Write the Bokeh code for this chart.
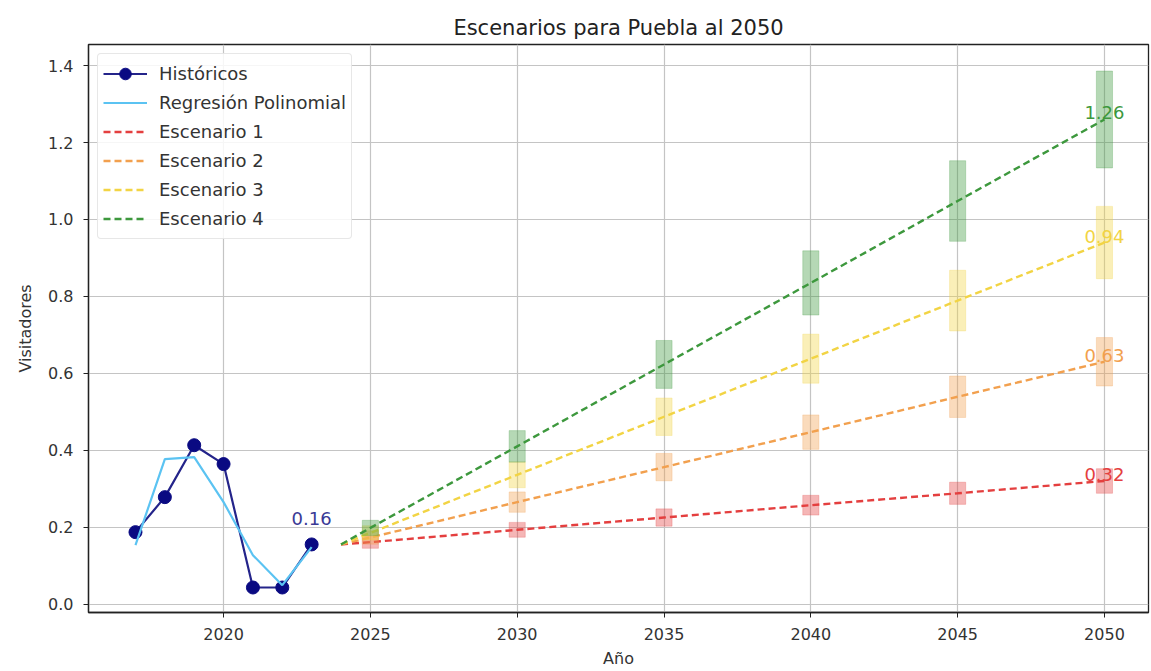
from bokeh.plotting import figure
from bokeh.models import Range1d, FixedTicker, NumeralTickFormatter, ColumnDataSource, Label
from bokeh.embed import file_html
from bokeh.resources import INLINE

# ---- data ----
hist_years = [2017, 2018, 2019, 2020, 2021, 2022, 2023]
hist_values = [0.187, 0.278, 0.413, 0.364, 0.043, 0.043, 0.155]
reg_values = [0.153, 0.377, 0.382, 0.265, 0.127, 0.049, 0.148]

line_years = [2024, 2025, 2030, 2035, 2040, 2045, 2050]
bar_years = [2025, 2030, 2035, 2040, 2045, 2050]
esc1 = [0.155, 0.161, 0.193, 0.225, 0.257, 0.288, 0.32]
esc2 = [0.155, 0.173, 0.265, 0.356, 0.447, 0.539, 0.63]
esc3 = [0.155, 0.185, 0.336, 0.487, 0.638, 0.789, 0.94]
esc4 = [0.155, 0.198, 0.41, 0.623, 0.835, 1.048, 1.26]
err_frac = 0.10

scen_names = ["Escenario 1", "Escenario 2", "Escenario 3", "Escenario 4"]
scen_colors = ["#e43f3f", "#f2a04e", "#f2d444", "#3d983d"]
scen_labels = ["0.32", "0.63", "0.94", "1.26"]
y_ticks = [0.0, 0.2, 0.4, 0.6, 0.8, 1.0, 1.2, 1.4]
x_ticks = [2020, 2025, 2030, 2035, 2040, 2045, 2050]

FONT = "DejaVu Sans"

p = figure(width=1150, height=670, output_backend="svg", toolbar_location=None,
           x_range=Range1d(2015.4, 2051.5), y_range=Range1d(-0.022, 1.455),
           min_border_left=88, min_border_right=2, min_border_top=44, min_border_bottom=58,
           title="Escenarios para Puebla al 2050")
p.title.align = "center"
p.title.text_font = FONT
p.title.text_font_size = "21px"
p.title.text_font_style = "normal"
p.title.text_color = "#222222"

p.outline_line_color = "#222222"
p.outline_line_width = 1.3
p.background_fill_color = "white"

for ax in (p.xaxis[0], p.yaxis[0]):
    ax.axis_line_color = "#222222"
    ax.axis_line_width = 1.3
    ax.major_tick_line_color = "#222222"
    ax.major_tick_out = 5
    ax.major_tick_in = 0
    ax.minor_tick_line_color = None
    ax.major_label_text_font = FONT
    ax.major_label_text_font_size = "16px"
    ax.major_label_text_color = "#333333"
    ax.major_label_standoff = 10
    ax.axis_label_text_font = FONT
    ax.axis_label_text_font_size = "16px"
    ax.axis_label_text_font_style = "normal"
    ax.axis_label_text_color = "#333333"

p.xaxis.ticker = FixedTicker(ticks=x_ticks)
p.yaxis.ticker = FixedTicker(ticks=y_ticks)
p.yaxis.formatter = NumeralTickFormatter(format="0.0")
p.xaxis.axis_label = "Año"
p.yaxis.axis_label = "Visitadores"
p.xaxis.axis_label_standoff = 6
p.yaxis.axis_label_standoff = 10

p.xgrid.grid_line_color = "#c4c4c4"
p.ygrid.grid_line_color = "#c4c4c4"
p.xgrid.grid_line_width = 1.2
p.ygrid.grid_line_width = 1.2

# historical
p.line(hist_years, hist_values, line_color="#24248a", line_width=2.2, legend_label="Históricos")
p.scatter(hist_years, hist_values, size=13, fill_color="#0a0a82", line_color="#0a0a82",
          legend_label="Históricos")
# regression
p.line(hist_years, reg_values, line_color="#5bc3f2", line_width=2.2, legend_label="Regresión Polinomial")

p.add_layout(Label(x=hist_years[-1], y=hist_values[-1] + 0.05, text="0.16",
                   text_align="center", text_baseline="bottom", text_color="#3a3a96",
                   text_font=FONT, text_font_size="18px"))

scens = [esc1, esc2, esc3, esc4]
for vals, name, col, lab in zip(scens, scen_names, scen_colors, scen_labels):
    bv = vals[1:]
    src = ColumnDataSource(dict(x=bar_years,
                                top=[v * (1 + err_frac) for v in bv],
                                bottom=[v * (1 - err_frac) for v in bv]))
    p.vbar(x="x", top="top", bottom="bottom", width=0.55, source=src,
           fill_color=col, fill_alpha=0.38, line_color=col, line_alpha=0.25)
    p.line(line_years, vals, line_color=col, line_width=2.4, line_dash="7 4", legend_label=name)
    p.add_layout(Label(x=line_years[-1], y=vals[-1], text=lab, text_align="center",
                       text_baseline="bottom", text_color=col, text_font=FONT,
                       text_font_size="18px"))

lg = p.legend[0]
lg.location = "top_left"
lg.margin = 9
lg.padding = 5
lg.spacing = 0
lg.label_height = 25
lg.glyph_height = 29
lg.glyph_width = 44
lg.label_standoff = 12
lg.label_text_font = FONT
lg.label_text_font_size = "18px"
lg.label_text_color = "#333333"
lg.border_line_color = "#d0d0d0"
lg.border_line_width = 1.2
lg.border_radius = 4
lg.background_fill_alpha = 0.85

open("out.html", "w").write(file_html(p, INLINE))
